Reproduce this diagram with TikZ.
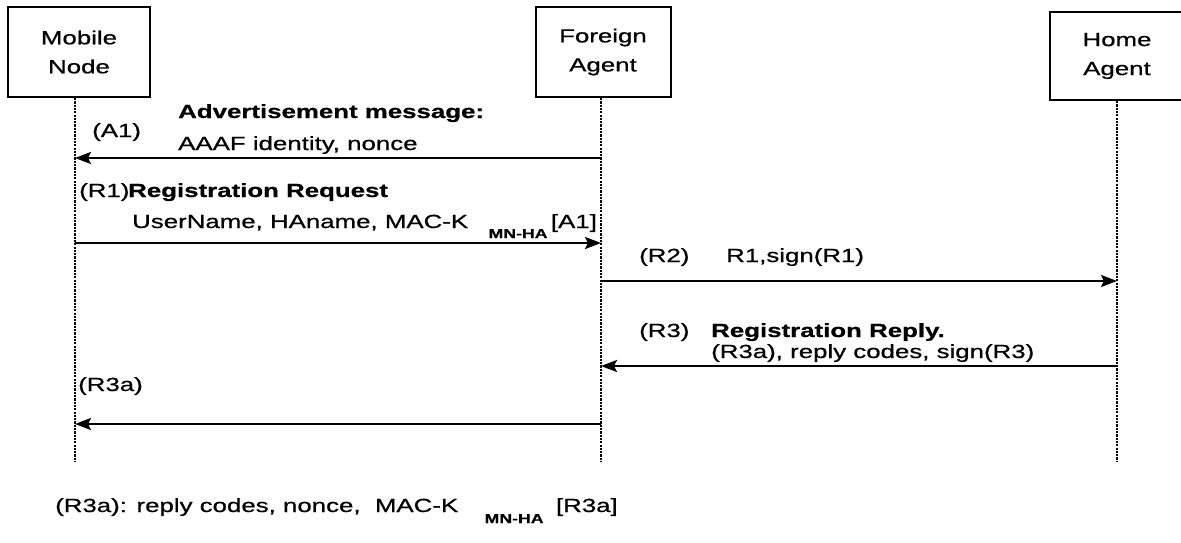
\documentclass[tikz,border=0pt]{standalone}
\usepackage{fontspec}
\setmainfont{Liberation Sans}[FakeStretch=1.36, FakeBold=0.7]
\usetikzlibrary{arrows.meta,positioning}

\begin{document}
\begin{tikzpicture}[x=1pt, y=-1pt,
        actor/.style={draw, line width=2pt, align=center, inner sep=0pt,
                minimum height=90pt, font=\fontsize{19}{29}\selectfont},
        life/.style={line width=2.4pt, dash pattern=on 2.2pt off 1.1pt},
        msg/.style={line width=2.4pt, -{Stealth[length=16pt, width=12pt, inset=3pt]}},
        lbl/.style={anchor=base west, inner sep=0pt, font=\fontsize{19}{22}\selectfont},
        head/.style={lbl, font=\fontsize{19}{22}\selectfont\bfseries},
        sub/.style={anchor=base west, inner sep=0pt, font=\fontsize{13}{14}\selectfont\bfseries}]

    \useasboundingbox (0,0) rectangle (1181,543);

    \node (mn) [actor, minimum width=142pt] at (79,52) {Mobile\\Node};
    \node (fa) [actor, minimum width=135pt] at (603,52) {Foreign\\Agent};
    \node (ha) [actor, minimum width=134pt, minimum height=88pt] at (1117,56) {Home\\Agent};

    \coordinate (mnEnd) at (75,462);
    \coordinate (faEnd) at (601,462);
    \coordinate (haEnd) at (1117,462);

    \draw[life] (mn.south -| mnEnd) -- (mnEnd);
    \draw[life] (fa.south -| faEnd) -- (faEnd);
    \draw[life] (ha.south -| haEnd) -- (haEnd);

    \coordinate (mnA1) at (75,158);
    \coordinate (faA1) at (601,158);
    \coordinate (mnR1) at (75,243);
    \coordinate (faR1) at (601,243);
    \coordinate (faR2) at (601,281);
    \coordinate (haR2) at (1117,281);
    \coordinate (haR3) at (1117,366);
    \coordinate (faR3) at (601,366);
    \coordinate (faR3a) at (601,424);
    \coordinate (mnR3a) at (75,424);

    \draw[msg] (faA1) -- (mnA1);
    \draw[msg] (mnR1) -- (faR1);
    \draw[msg] (faR2) -- (haR2);
    \draw[msg] (haR3) -- (faR3);
    \draw[msg] (faR3a) -- (mnR3a);

    \node (a1) [lbl] at (92,137) {(A1)};
    \node (a1h) [head] at (178,118) {Advertisement message:};
    \node (a1t) [lbl] at (178,150) {AAAF identity, nonce};

    \node (r1) [lbl] at (79,197) {(R1)};
    \node (r1h) [head] at (128,197) {Registration Request};
    \node (r1t) [lbl] at (132,228) {UserName, HAname, MAC-K};
    \node (r1s) [sub] at ([xshift=20pt, yshift=-10pt]r1t.base east) {MN-HA};
    \node (r1k) [lbl] at ([xshift=3pt, yshift=10pt]r1s.base east) {[A1]};

    \node (r2) [lbl] at (639,262) {(R2)};
    \node (r2t) [lbl] at (726,262) {R1,sign(R1)};

    \node (r3) [lbl] at (639,337) {(R3)};
    \node (r3h) [head] at (711,337) {Registration Reply.};
    \node (r3t) [lbl] at (711,358) {(R3a), reply codes, sign(R3)};

    \node (r3a) [lbl] at (78,391) {(R3a)};

    \node (key) [lbl] at (55,512) {(R3a): reply codes, nonce,\ \ MAC-K};
    \node (keys) [sub] at ([xshift=26pt, yshift=-11pt]key.base east) {MN-HA};
    \node (keyk) [lbl] at ([xshift=12pt, yshift=11pt]keys.base east) {[R3a]};
\end{tikzpicture}
\end{document}
